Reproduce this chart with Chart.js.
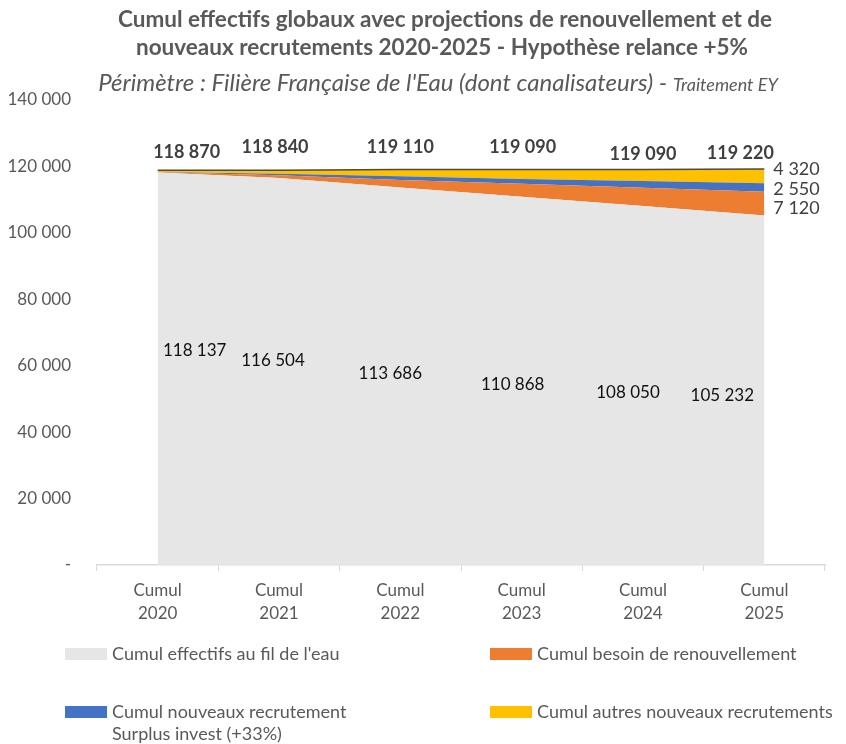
<!DOCTYPE html>
<html>
<head>
<meta charset="utf-8">
<script src="https://cdn.jsdelivr.net/npm/chart.js@4"></script>
<style>
  html, body { margin: 0; padding: 0; background: #fff; }
  #wrap { width: 846px; height: 744px; position: relative; }
</style>
</head>
<body>
<div id="wrap"><canvas id="myChart" width="846" height="744"></canvas></div>
<script>
const years = ['2020', '2021', '2022', '2023', '2024', '2025'];
const filEau = [118137, 116504, 113686, 110868, 108050, 105232];
const renouvellement = [83, 806, 2224, 3922, 5540, 7120];
const surplusInvest = [90, 480, 1100, 1450, 2000, 2550];
const autresRecrut = [560, 1050, 2100, 2850, 3500, 4320];
const totals = [118870, 118840, 119110, 119090, 119090, 119220];
const yMax = 140000;
const yStep = 20000;

const FONT = 'Lato, "Open Sans", sans-serif';
const grey = '#e7e6e6', orange = '#ed7d31', blue = '#4472c4', yellow = '#ffc000';

// "118 137" style with a plain space as thousands separator
function fmt(v) {
  return String(Math.round(v)).replace(/\B(?=(\d{3})+(?!\d))/g, ' ');
}

// label nudges (px) so the numbers sit like in the workbook export
const baseDx = [37, -6, -10, -9, -15, -42];
const baseDy = [-18, -11, -3, 4, 7, 5];
const totDx = [29, -4, 0, 1, 0, -24];
const totDy = [-18, -23, -22, -22, -15, -16];

const labelsPlugin = {
  id: 'labels',
  afterDatasetsDraw(chart) {
    const ctx = chart.ctx;
    const y = chart.scales.y;
    const x = chart.scales.x;
    ctx.save();
    ctx.textBaseline = 'middle';

    // values inside the grey area
    ctx.font = '17px ' + FONT;
    ctx.fillStyle = '#111';
    ctx.textAlign = 'center';
    filEau.forEach((v, i) => {
      ctx.fillText(fmt(v), x.getPixelForValue(i) + baseDx[i], y.getPixelForValue(v / 2) + baseDy[i]);
    });

    // totals above the stack
    ctx.font = 'bold 18px ' + FONT;
    ctx.fillStyle = '#404040';
    totals.forEach((v, i) => {
      ctx.fillText(fmt(v), x.getPixelForValue(i) + totDx[i], y.getPixelForValue(v) + totDy[i]);
    });

    // last-year values at the right edge
    const last = years.length - 1;
    const lx = x.getPixelForValue(last) + 9;
    ctx.font = '18px ' + FONT;
    ctx.textAlign = 'left';
    const b = filEau[last];
    const r = renouvellement[last], s = surplusInvest[last], a = autresRecrut[last];
    ctx.fillText(fmt(a), lx, y.getPixelForValue(b + r + s + a / 2) - 7);
    ctx.fillText(fmt(s), lx, y.getPixelForValue(b + r + s / 2) + 2);
    ctx.fillText(fmt(r), lx, y.getPixelForValue(b + r / 2) + 5);
    ctx.restore();
  }
};

const headerPlugin = {
  id: 'header',
  afterDraw(chart) {
    const ctx = chart.ctx;
    ctx.save();
    ctx.fillStyle = '#595959';
    ctx.textAlign = 'center';
    ctx.textBaseline = 'middle';
    ctx.font = 'bold 22.5px ' + FONT;
    ctx.fillText('Cumul effectifs globaux avec projections de renouvellement et de', 445, 20);
    ctx.fillText('nouveaux recrutements 2020-2025 - Hypothèse relance +5%', 442, 48);

    const p1 = "Périmètre : Filière Française de l'Eau (dont canalisateurs) - ";
    const p2 = 'Traitement EY';
    ctx.textAlign = 'left';
    ctx.textBaseline = 'alphabetic';
    ctx.font = 'italic 24px ' + FONT;
    const w1 = ctx.measureText(p1).width;
    ctx.font = 'italic 18px ' + FONT;
    const w2 = ctx.measureText(p2).width;
    const sx = 438 - (w1 + w2) / 2;
    ctx.font = 'italic 24px ' + FONT;
    ctx.fillText(p1, sx, 91);
    ctx.font = 'italic 18px ' + FONT;
    ctx.fillText(p2, sx + w1, 91);
    ctx.restore();
  }
};

const legendPlugin = {
  id: 'customLegend',
  afterDraw(chart) {
    const ctx = chart.ctx;
    const items = [
      { ds: 0, x: 65, y: 654 },
      { ds: 1, x: 490, y: 654 },
      { ds: 2, x: 65, y: 712 },
      { ds: 3, x: 490, y: 712 }
    ];
    ctx.save();
    ctx.font = '18px ' + FONT;
    ctx.textBaseline = 'middle';
    ctx.textAlign = 'left';
    items.forEach(it => {
      const ds = chart.data.datasets[it.ds];
      ctx.fillStyle = ds.backgroundColor;
      ctx.fillRect(it.x, it.y - 6, 42, 12);
      ctx.fillStyle = '#595959';
      const lines = [].concat(ds.legendText || ds.label);
      lines.forEach((t, k) => ctx.fillText(t, it.x + 47, it.y + k * 22));
    });
    ctx.restore();
  }
};

const data = {
  labels: years.map(yr => ['Cumul', yr]),
  datasets: [
    {
      label: "Cumul effectifs au fil de l'eau",
      data: filEau,
      backgroundColor: grey,
      borderColor: grey,
      borderWidth: 0,
      fill: 'origin'
    },
    {
      label: 'Cumul besoin de renouvellement',
      data: renouvellement,
      backgroundColor: orange,
      borderColor: orange,
      borderWidth: 0,
      fill: '-1'
    },
    {
      label: 'Cumul nouveaux recrutement Surplus invest (+33%)',
      legendText: ['Cumul nouveaux recrutement', 'Surplus invest (+33%)'],
      data: surplusInvest,
      backgroundColor: blue,
      borderColor: blue,
      borderWidth: 0,
      fill: '-1'
    },
    {
      label: 'Cumul autres nouveaux recrutements',
      data: autresRecrut,
      backgroundColor: yellow,
      borderColor: yellow,
      borderWidth: 0,
      fill: '-1'
    },
    {
      label: 'Total',
      data: totals,
      stack: 'total',
      borderColor: '#4a4a40',
      borderWidth: 1.5,
      fill: false,
      order: -1
    }
  ]
};

const config = {
  type: 'line',
  data: data,
  options: {
    responsive: false,
    animation: false,
    layout: { padding: { top: 100, right: 21, bottom: 119, left: 0 } },
    elements: { point: { radius: 0 }, line: { tension: 0 } },
    plugins: {
      legend: { display: false },
      tooltip: { enabled: false }
    },
    scales: {
      x: {
        offset: true,
        grid: { offset: true, drawOnChartArea: false, drawTicks: true, tickLength: 6, color: '#d9d9d9' },
        border: { display: true, color: '#d9d9d9', width: 1.5 },
        ticks: { color: '#595959', font: { family: FONT, size: 17, lineHeight: 1.35 }, padding: 8, maxRotation: 0 },
        afterFit(s) { s.height = 60; }
      },
      y: {
        stacked: true,
        min: 0,
        max: yMax,
        grid: { display: false },
        border: { display: false },
        ticks: {
          stepSize: yStep,
          color: '#595959',
          font: { family: FONT, size: 17 },
          padding: 18,
          callback: v => v === 0 ? '-' : fmt(v)
        },
        afterFit(s) { s.width = 97; }
      }
    }
  },
  plugins: [labelsPlugin, headerPlugin, legendPlugin]
};

const myChart = new Chart(document.getElementById('myChart'), config);
</script>
</body>
</html>
